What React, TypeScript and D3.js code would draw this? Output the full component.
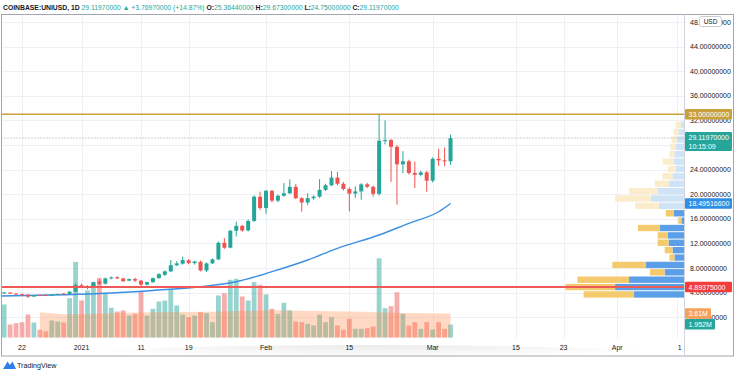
import React, { useEffect, useRef } from 'react';
import * as d3 from 'd3';

// daily bars, the first one is 2020-12-19
const firstDay = '2020-12-19';
const opens = [
  3.88, 4.0, 3.85, 3.74, 3.65, 3.38, 3.6, 3.62, 3.56, 3.68,
  3.86, 3.8, 4.15, 5.2, 4.85, 4.95, 5.8, 5.45, 6.3, 6.5,
  6.3, 5.95, 6.2, 5.95, 5.3, 5.7, 6.35, 6.9, 7.45, 8.45,
  8.7, 9.25, 8.8, 9.0, 7.6, 8.75, 9.4, 12.1, 11.3, 14.05,
  14.85, 14.1, 15.65, 19.6, 17.75, 20.55, 18.95, 19.75, 20.15, 21.2,
  19.35, 18.65, 19.35, 19.6, 20.7, 21.45, 22.7, 21.7, 20.85, 20.1,
  20.45, 21.6, 21.2, 20.05, 28.7, 28.8, 27.7, 24.85, 25.35, 23.45,
  23.15, 23.55, 22.2, 25.75, 25.5, 25.3644,
];
const highs = [
  4.1, 4.08, 3.9, 3.8, 3.75, 3.6, 3.68, 3.7, 3.75, 3.85,
  3.92, 4.25, 5.5, 5.45, 5.2, 5.8, 6.2, 6.45, 6.6, 6.65,
  6.4, 6.3, 6.42, 6.05, 5.8, 6.45, 7.15, 7.6, 9.3, 9.1,
  9.85, 9.45, 9.2, 9.2, 8.9, 9.55, 12.3, 12.85, 14.2, 15.55,
  15.0, 15.9, 19.8, 20.4, 20.7, 20.7, 19.95, 21.8, 22.4, 21.65,
  19.5, 20.15, 19.8, 22.45, 21.7, 23.75, 23.6, 22.0, 21.1, 21.3,
  21.8, 21.85, 21.4, 32.95, 32.0, 29.0, 28.0, 27.0, 25.6, 25.3,
  23.8, 23.8, 26.0, 27.4, 27.6, 29.673,
];
const lows = [
  3.8, 3.78, 3.68, 3.5, 3.1, 3.3, 3.48, 3.5, 3.5, 3.62,
  3.72, 3.75, 4.05, 4.8, 4.55, 4.85, 5.2, 5.3, 6.15, 6.2,
  5.75, 5.85, 5.7, 4.9, 5.15, 5.6, 6.25, 6.7, 7.35, 8.3,
  8.55, 8.6, 8.55, 7.45, 7.35, 8.65, 9.3, 11.1, 11.2, 13.1,
  13.9, 13.95, 15.5, 17.45, 16.8, 18.7, 18.7, 19.6, 20.0, 19.2,
  17.15, 18.25, 19.1, 19.4, 20.5, 21.3, 21.4, 20.6, 17.2, 19.4,
  19.1, 21.0, 19.6, 19.8, 28.1, 22.0, 18.3, 23.4, 23.2, 21.0,
  22.9, 20.4, 21.9, 24.6, 24.55, 24.75,
];
const closes = [
  4.02, 3.85, 3.74, 3.58, 3.35, 3.52, 3.55, 3.56, 3.68, 3.78,
  3.8, 4.15, 5.24, 4.95, 4.95, 5.7, 5.45, 6.3, 6.48, 6.3,
  5.85, 6.2, 5.95, 5.3, 5.7, 6.35, 7.0, 7.45, 8.45, 8.75,
  9.3, 8.8, 9.05, 7.6, 8.75, 9.4, 12.1, 11.3, 14.05, 14.85,
  14.1, 15.65, 19.6, 17.75, 20.55, 18.95, 19.75, 20.15, 21.2, 19.35,
  18.65, 19.35, 19.6, 20.7, 21.45, 22.7, 21.7, 20.85, 20.1, 20.45,
  21.6, 21.2, 20.05, 28.7, 28.8, 27.7, 24.85, 25.35, 23.45, 23.15,
  23.55, 22.2, 25.75, 25.5, 25.3644, 29.1197,
];
// volume in millions
const volumes = [
  4.98, 1.96, 2.16, 2.31, 3.47, 2.26, 1.16, 0.95, 2.56, 2.41,
  2.26, 5.93, 11.4, 5.58, 7.09, 8.19, 9.0, 6.74, 4.48, 3.92,
  4.07, 3.32, 3.57, 6.98, 3.32, 4.33, 5.43, 5.58, 7.34, 4.83,
  3.47, 3.06, 3.32, 3.82, 3.67, 2.31, 6.33, 6.68, 8.7, 8.85,
  6.18, 5.58, 8.34, 7.95, 6.49, 4.33, 3.57, 5.23, 4.07, 2.41,
  2.31, 2.07, 1.81, 3.47, 2.31, 3.06, 1.81, 1.16, 2.82, 1.31,
  1.31, 1.4, 1.66, 11.95, 4.42, 4.72, 6.83, 3.57, 1.81, 2.31,
  1.31, 2.31, 1.21, 2.31, 1.31, 1.952,
];

// moving average line, read at a few dates
const maDates = ['2020-12-18', '2020-12-27', '2021-01-04', '2021-01-13', '2021-01-21', '2021-01-27',
  '2021-02-02', '2021-02-08', '2021-02-13', '2021-02-20', '2021-02-25', '2021-03-02', '2021-03-04'];
const maValues = [3.45, 3.6, 3.85, 4.35, 4.96, 5.77, 7.4, 9.3, 11.2, 13.37, 15.27, 17.15, 18.49516];

// volume moving average (bar index, millions)
const volMaBars = [6, 10, 15, 20, 25, 30, 35, 40, 45, 50, 55, 60, 65, 70, 75];
const volMaValues = [3.8, 3.5, 3.55, 3.75, 3.8, 3.85, 3.9, 4.0, 4.1, 4.05, 3.95, 3.9, 3.75, 3.65, 3.61];

// volume profile rows, bottom to top (millions)
const profileLow = 3.1;
const profileStep = 1.2;
const profileUp = [18.1, 24.9, 19.9, 7.1, 13.8, 3.6, 4.3, 5.7, 6.0, 8.9, 1.1, 3.9,
  9.2, 12.1, 9.6, 5.7, 4.3, 3.2, 3.9, 3.6, 3.2, 2.8, 2.1, 1.4];
const profileDown = [18.1, 17.8, 18.5, 5.3, 12.1, 1.8, 2.8, 3.9, 3.6, 7.8, 1.1, 2.8,
  8.5, 12.8, 10.3, 5.0, 3.6, 2.8, 3.9, 1.8, 1.8, 1.8, 1.8, 1.8];
const valueAreaTop = 11;

// 28 sits under the last-price badge, so it is not printed
const priceTicks = [0, 4, 8, 12, 16, 20, 24, 32, 36, 40, 44, 48];
const gridPrices = [0, 4, 8, 12, 16, 20, 24, 28, 32, 36, 40, 44, 48];
const tickDates = ['2020-12-22', '2021-01-01', '2021-01-11', '2021-01-19', '2021-02-01', '2021-02-15',
  '2021-03-01', '2021-03-15', '2021-03-23', '2021-04-01', '2021-04-11'];
const tickLabels = ['22', '2021', '11', '19', 'Feb', '15', 'Mar', '15', '23', 'Apr', '1'];

const resistance = 33;
const support = 4.89375;
const lastPrice = 29.1197;
const lastVolMa = 3.61;
const lastVol = 1.952;

const UP = '#26a69a';
const DOWN = '#ef5350';
const FONT = '"Liberation Sans", Arial, sans-serif';

function App() {
  const ref = useRef<SVGSVGElement>(null);

  useEffect(() => {
    const svg = d3.select(ref.current);
    svg.selectAll('*').remove();

    const parse = d3.utcParse('%Y-%m-%d');
    const start = parse(firstDay) as Date;
    const days = opens.map((_, i) => d3.utcDay.offset(start, i));

    const paneL = 1.5, paneR = 684.5, paneT = 14.5, paneB = 338.5;

    const x = d3.scaleUtc()
      .domain([parse('2020-12-22') as Date, parse('2021-03-15') as Date])
      .range([22, 516]);
    const y = d3.scaleLinear().domain([0, 48]).range([317.2, 22]);
    const yv = d3.scaleLinear().domain([0, 10]).range([337.5, 271.2]);

    svg.append('rect').attr('width', 736).attr('height', 371).attr('fill', '#fff');

    const defs = svg.append('defs');
    defs.append('clipPath').attr('id', 'pane')
      .append('rect').attr('x', paneL).attr('y', paneT).attr('width', paneR - paneL).attr('height', paneB - paneT);
    const shade = defs.append('radialGradient').attr('id', 'shade')
      .attr('cx', '50%').attr('cy', '0%').attr('r', '50%');
    shade.append('stop').attr('offset', '0%').attr('stop-color', '#000').attr('stop-opacity', 0.08);
    shade.append('stop').attr('offset', '100%').attr('stop-color', '#000').attr('stop-opacity', 0);

    // soft shadow under the card
    svg.append('ellipse').attr('cx', 368).attr('cy', 358).attr('rx', 330).attr('ry', 13)
      .attr('fill', 'url(#shade)');

    const pane = svg.append('g').attr('clip-path', 'url(#pane)');
    pane.append('rect').attr('x', paneL).attr('y', paneT).attr('width', paneR - paneL).attr('height', paneB - paneT)
      .attr('fill', '#fff');

    // grid
    pane.selectAll('.vg').data(tickDates).enter().append('line')
      .attr('x1', d => Math.round(x(parse(d) as Date)) + 0.5)
      .attr('x2', d => Math.round(x(parse(d) as Date)) + 0.5)
      .attr('y1', paneT).attr('y2', paneB)
      .attr('stroke', '#eef0f5').attr('stroke-width', 1);
    pane.selectAll('.hg').data(gridPrices).enter().append('line')
      .attr('x1', paneL).attr('x2', paneR)
      .attr('y1', d => Math.round(y(d)) + 0.5)
      .attr('y2', d => Math.round(y(d)) + 0.5)
      .attr('stroke', '#eef0f5').attr('stroke-width', 1);

    // volume profile
    const totals = profileUp.map((u, i) => u + profileDown[i]);
    const pw = d3.scaleLinear().domain([0, d3.max(totals) as number]).range([0, 119]);
    const vp = pane.append('g');
    profileUp.forEach((u, i) => {
      const dn = profileDown[i];
      const lo = profileLow + i * profileStep;
      const top = y(lo + profileStep) + 0.5;
      const h = y(lo) - y(lo + profileStep) - 1;
      const inVa = i <= valueAreaTop;
      vp.append('rect')
        .attr('x', paneR - pw(u)).attr('y', top)
        .attr('width', pw(u)).attr('height', h)
        .attr('fill', inVa ? '#5b9fe8' : '#cfe3f6');
      vp.append('rect')
        .attr('x', paneR - pw(u + dn)).attr('y', top)
        .attr('width', pw(dn)).attr('height', h)
        .attr('fill', inVa ? '#f3cb6e' : '#fbedcc');
    });

    // volume bars
    pane.selectAll('.vol').data(volumes).enter().append('rect')
      .attr('x', (_, i) => x(days[i]) - 2.4)
      .attr('width', 4.8)
      .attr('y', d => yv(d))
      .attr('height', d => yv(0) - yv(d))
      .attr('fill', (_, i) => closes[i] >= opens[i] ? UP : DOWN)
      .attr('opacity', 0.48);

    // volume MA area
    const vmaArea = d3.area<number>()
      .x((_, k) => x(days[volMaBars[k]]))
      .y0(yv(0))
      .y1(d => yv(d));
    pane.append('path').datum(volMaValues)
      .attr('d', vmaArea)
      .attr('fill', '#ff8a45').attr('opacity', 0.32);

    // moving average
    const maLine = d3.line<number>()
      .x((_, k) => x(parse(maDates[k]) as Date))
      .y(d => y(d))
      .curve(d3.curveMonotoneX);
    pane.append('path').datum(maValues)
      .attr('d', maLine)
      .attr('fill', 'none').attr('stroke', '#3a8fe2').attr('stroke-width', 1.4);

    // candles
    const candles = pane.append('g');
    opens.forEach((o, i) => {
      const c = closes[i];
      const col = c >= o ? UP : DOWN;
      const cx = x(days[i]);
      candles.append('line')
        .attr('x1', cx).attr('x2', cx)
        .attr('y1', y(highs[i])).attr('y2', y(lows[i]))
        .attr('stroke', col).attr('stroke-width', 1);
      const top = y(Math.max(o, c));
      const h = Math.max(1, Math.abs(y(o) - y(c)));
      candles.append('rect')
        .attr('x', cx - 2).attr('y', top)
        .attr('width', 4).attr('height', h)
        .attr('fill', col);
    });

    // last price line
    pane.append('line')
      .attr('x1', paneL).attr('x2', paneR)
      .attr('y1', y(lastPrice)).attr('y2', y(lastPrice))
      .attr('stroke', '#9aa4ad').attr('stroke-width', 1).attr('stroke-dasharray', '1,2');

    // drawn levels
    pane.append('line')
      .attr('x1', paneL).attr('x2', paneR)
      .attr('y1', y(resistance)).attr('y2', y(resistance))
      .attr('stroke', '#c9a03a').attr('stroke-width', 1.6);
    pane.append('line')
      .attr('x1', paneL).attr('x2', paneR)
      .attr('y1', y(support)).attr('y2', y(support))
      .attr('stroke', '#ee5a55').attr('stroke-width', 2);

    // frame
    svg.append('rect')
      .attr('x', paneL).attr('y', paneT)
      .attr('width', 733.5 - paneL).attr('height', 356 - paneT)
      .attr('fill', 'none').attr('stroke', '#a3a6af').attr('stroke-width', 1);
    svg.append('line')
      .attr('x1', paneR).attr('x2', paneR).attr('y1', paneT).attr('y2', 356)
      .attr('stroke', '#d1d4dc');

    // price axis
    const axis = svg.append('g').attr('font-family', FONT).attr('font-size', 7).attr('fill', '#131722');
    axis.selectAll('text').data(priceTicks).enter().append('text')
      .attr('x', 690).attr('y', d => y(d) + 2.5)
      .text(d => d.toFixed(8));

    // USD badge
    svg.append('rect').attr('x', 699.5).attr('y', 16.5).attr('width', 22).attr('height', 10).attr('rx', 2)
      .attr('fill', '#fff').attr('stroke', '#c8cbd3');
    svg.append('text').attr('x', 710.5).attr('y', 24).attr('text-anchor', 'middle')
      .attr('font-family', FONT).attr('font-size', 6.5).attr('fill', '#131722').text('USD');

    const label = (cy: number, lines: string[], bg: string, w: number) => {
      const h = lines.length === 1 ? 10.5 : 19;
      const top = lines.length === 1 ? cy - h / 2 : cy - 6;
      svg.append('rect').attr('x', paneR + 0.5).attr('y', top).attr('width', w).attr('height', h)
        .attr('rx', 1).attr('fill', bg);
      lines.forEach((t, k) => {
        svg.append('text').attr('x', paneR + 4).attr('y', top + 7.8 + k * 8.6)
          .attr('font-family', FONT).attr('font-size', 7)
          .attr('fill', '#fff').text(t);
      });
    };
    label(y(resistance), [resistance.toFixed(8)], '#c9a03a', 47);
    label(y(lastPrice), [lastPrice.toFixed(8), '10:15:09'], '#26a69a', 47);
    label(y(maValues[maValues.length - 1]), ['18.49516600'], '#2f8fe6', 47);
    label(y(support), [support.toFixed(8)], '#f23d3a', 47);
    label(yv(lastVolMa), [lastVolMa + 'M'], '#f5a15a', 26);
    label(yv(lastVolMa) + 10.7, [lastVol + 'M'], '#26a69a', 30);

    // time axis
    svg.append('g').selectAll('text').data(tickDates).enter().append('text')
      .attr('x', (d, i) => x(parse(d) as Date) + (i === tickDates.length - 1 ? 3 : 0))
      .attr('y', 350)
      .attr('text-anchor', 'middle')
      .attr('font-family', FONT).attr('font-size', 7).attr('fill', '#131722')
      .text((_, i) => tickLabels[i]);

    // header
    const head = svg.append('text').attr('x', 3).attr('y', 9.5)
      .attr('font-family', FONT).attr('font-size', 6.8).attr('fill', UP);
    head.append('tspan').attr('fill', '#131722').attr('font-weight', 'bold').text('COINBASE:UNIUSD, 1D ');
    head.append('tspan').text(' 29.11970000 \u25B2 +3.76970000 (+14.87%) ');
    [['O:', '25.36440000'], ['H:', '29.67300000'], ['L:', '24.75000000'], ['C:', '29.11970000']].forEach(([k, v]) => {
      head.append('tspan').attr('fill', '#131722').attr('font-weight', 'bold').text(' ' + k);
      head.append('tspan').text(v);
    });

    // logo
    svg.append('path')
      .attr('d', 'M3 369 L7.5 361.5 L10 365 L12.5 361.5 L16 369 Z')
      .attr('fill', '#2e7fe8');
    svg.append('text').attr('x', 17).attr('y', 368)
      .attr('font-family', FONT).attr('font-size', 7.2).attr('fill', '#131722').text('TradingView');
  }, []);

  return (
    <svg ref={ref} width={736} height={371} style={{ position: 'absolute', left: 0, top: 0 }} />
  );
}

export default App;
